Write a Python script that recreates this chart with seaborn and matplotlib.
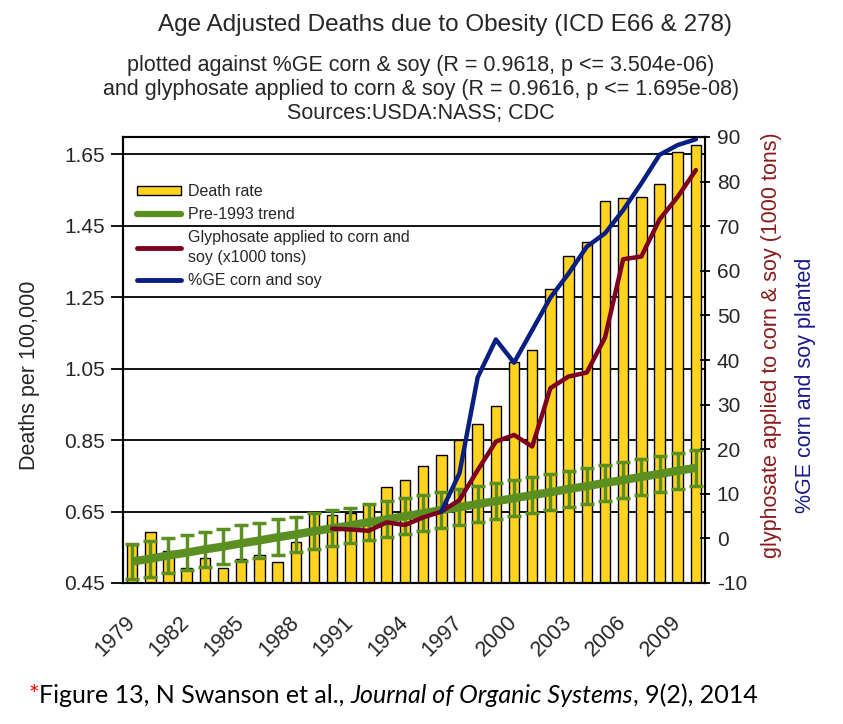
import numpy as np
import pandas as pd
import matplotlib
matplotlib.use("Agg")
import matplotlib.pyplot as plt
import seaborn as sns
from matplotlib.patches import Patch
from matplotlib.lines import Line2D

# ---------------- data ----------------
years = list(range(1979, 2011))
death_rate = [0.556, 0.594, 0.540, 0.493, 0.521, 0.491, 0.518, 0.528, 0.510, 0.564,
              0.645, 0.640, 0.645, 0.670, 0.718, 0.737, 0.778, 0.808, 0.850, 0.894,
              0.945, 1.067, 1.102, 1.272, 1.365, 1.403, 1.519, 1.526, 1.531, 1.566,
              1.655, 1.675]
trend = [0.510, 0.518, 0.527, 0.535, 0.544, 0.552, 0.561, 0.569, 0.578, 0.586,
         0.595, 0.603, 0.611, 0.620, 0.628, 0.637, 0.645, 0.654, 0.662, 0.671,
         0.679, 0.687, 0.696, 0.704, 0.713, 0.721, 0.730, 0.738, 0.747, 0.755,
         0.764, 0.772]
trend_err = 0.05
gly_years = list(range(1990, 2011))
glyphosate = [2.2, 2.0, 1.7, 3.6, 3.0, 4.7, 6.0, 8.6, 15.3, 21.7, 23.2, 20.6,
              33.7, 36.3, 37.2, 45.0, 62.6, 63.2, 71.5, 76.6, 82.6]
ge_years = list(range(1996, 2011))
ge_pct = [6.0, 14.6, 36.1, 44.6, 39.4, 46.7, 54.0, 59.4, 65.4, 68.4, 73.6,
          79.6, 86.0, 88.2, 89.5]
label_years = years[::3]
left_ticks = [0.45, 0.65, 0.85, 1.05, 1.25, 1.45, 1.65]
right_ticks = list(range(-10, 91, 10))

# ---------------- style ----------------
sns.set_style("white")
plt.rcParams["font.family"] = ["Liberation Sans", "DejaVu Sans"]

yellow = "#FFD320"
green = "#5B8F22"
red = "#7E0021"
blue = "#0A1F82"
red_txt = "#8B1A1A"
blue_txt = "#1A1A8C"

W, H = 843, 724
fig = plt.figure(figsize=(W / 100, H / 100), dpi=100)
ax = fig.add_axes([123 / W, 1 - 583 / H, (705 - 123) / W, (583 - 137) / H])

df = pd.DataFrame({"year": years, "death": death_rate})
sns.barplot(data=df, x="year", y="death", color=yellow, saturation=1, width=0.58,
            edgecolor="black", linewidth=1.0, ax=ax, zorder=2)

pos = np.array([years.index(y) for y in years])
ax.plot(pos, trend, color=green, lw=6, solid_capstyle="butt", zorder=3)
ax.errorbar(pos, trend, yerr=trend_err, fmt="none", ecolor=green, elinewidth=2.5,
            capsize=4.8, capthick=2.5, zorder=4)

ax.set_xlim(-0.5, len(years) - 0.5)
ax.set_ylim(0.45, 1.6976)
ax.set_yticks(left_ticks)
ax.set_yticklabels([f"{v:.2f}" for v in left_ticks], fontsize=15)
ax.yaxis.grid(True, color="black", lw=1.3)
ax.xaxis.grid(False)
ax.set_axisbelow(True)
ax.set_xlabel("")
ax.set_ylabel("")

ax.set_xticks(np.arange(len(years) + 1) - 0.5, minor=True)
ax.set_xticks([years.index(y) for y in label_years])
ax.set_xticklabels([str(y) for y in label_years], rotation=45, ha="right",
                   va="center", rotation_mode="anchor", fontsize=15.5)
ax.tick_params(axis="x", which="major", length=0, pad=26)
ax.tick_params(axis="x", which="minor", length=6, width=1.2, color="black", direction="out")
ax.tick_params(axis="y", which="major", length=9, width=1.3, color="black",
               direction="out", pad=4, left=True)
for s in ax.spines.values():
    s.set_color("black")
    s.set_linewidth(1.5)

ax2 = ax.twinx()
sns.lineplot(x=[years.index(y) for y in gly_years], y=glyphosate, color=red,
             lw=3.2, ax=ax2)
sns.lineplot(x=[years.index(y) for y in ge_years], y=ge_pct, color=blue,
             lw=3.2, ax=ax2)
ax2.set_ylim(-10, 90)
ax2.set_yticks(right_ticks)
ax2.set_yticklabels([str(v) for v in right_ticks], fontsize=15)
ax2.tick_params(axis="y", length=7, width=1.3, color="black", direction="inout", pad=5, right=True)
ax2.set_xlim(-0.5, len(years) - 0.5)
for s in ax2.spines.values():
    s.set_color("black")
    s.set_linewidth(1.5)

handles = [Patch(facecolor=yellow, edgecolor="black", lw=1),
           Line2D([], [], color=green, lw=4.5),
           Line2D([], [], color=red, lw=3.5),
           Line2D([], [], color=blue, lw=3.5)]
labels = ["Death rate", "Pre-1993 trend",
          "Glyphosate applied to corn and\nsoy (x1000 tons)", "%GE corn and soy"]
leg = ax2.legend(handles, labels, loc="upper left", bbox_to_anchor=(137 / W, 1 - 184 / H),
                 bbox_transform=fig.transFigure, frameon=False, fontsize=11.5,
                 handlelength=2.75, handleheight=0.5, handletextpad=0.45,
                 labelspacing=0.5, borderaxespad=0, borderpad=0)
for t in leg.get_texts():
    t.set_linespacing(1.4)

# ---------------- texts ----------------
fig.text(445 / W, 1 - 25 / H, "Age Adjusted Deaths due to Obesity (ICD E66 & 278)",
         ha="center", va="center", fontsize=17.5)
fig.text(421 / W, 1 - 66 / H, "plotted against %GE corn & soy (R = 0.9618, p <= 3.504e-06)",
         ha="center", va="center", fontsize=15.5)
fig.text(421 / W, 1 - 90 / H, "and glyphosate applied to corn & soy (R = 0.9616, p <= 1.695e-08)",
         ha="center", va="center", fontsize=15.5)
fig.text(421 / W, 1 - 114 / H, "Sources:USDA:NASS; CDC",
         ha="center", va="center", fontsize=15.5)

fig.text(30 / W, 1 - 375 / H, "Deaths per 100,000", rotation=90, ha="center",
         va="center", fontsize=15.5)
fig.text(771 / W, 1 - 345 / H, "glyphosate applied to corn & soy (1000 tons)",
         rotation=90, ha="center", va="center", fontsize=15.5, color=red_txt)
fig.text(805 / W, 1 - 385 / H, "%GE corn and soy planted", rotation=90,
         ha="center", va="center", fontsize=15.5, color=blue_txt)

cap_font = ["Lato", "DejaVu Sans"]
cap_fs = 18
t1 = fig.text(28 / W, 1 - 707 / H, "*", color="red", fontsize=cap_fs, family=cap_font,
              ha="left", va="bottom")
t2 = ax.annotate("Figure 13, N Swanson et al., ", xy=(1, 0), xycoords=t1, ha="left",
                 va="bottom", fontsize=cap_fs, family=cap_font, color="black")
t3 = ax.annotate("Journal of Organic Systems", xy=(1, 0), xycoords=t2, ha="left",
                 va="bottom", fontsize=cap_fs, family=cap_font, style="italic", color="black")
t4 = ax.annotate(", 9(2), 2014", xy=(1, 0), xycoords=t3, ha="left",
                 va="bottom", fontsize=cap_fs, family=cap_font, color="black")

fig.savefig("out.png", dpi=100)
